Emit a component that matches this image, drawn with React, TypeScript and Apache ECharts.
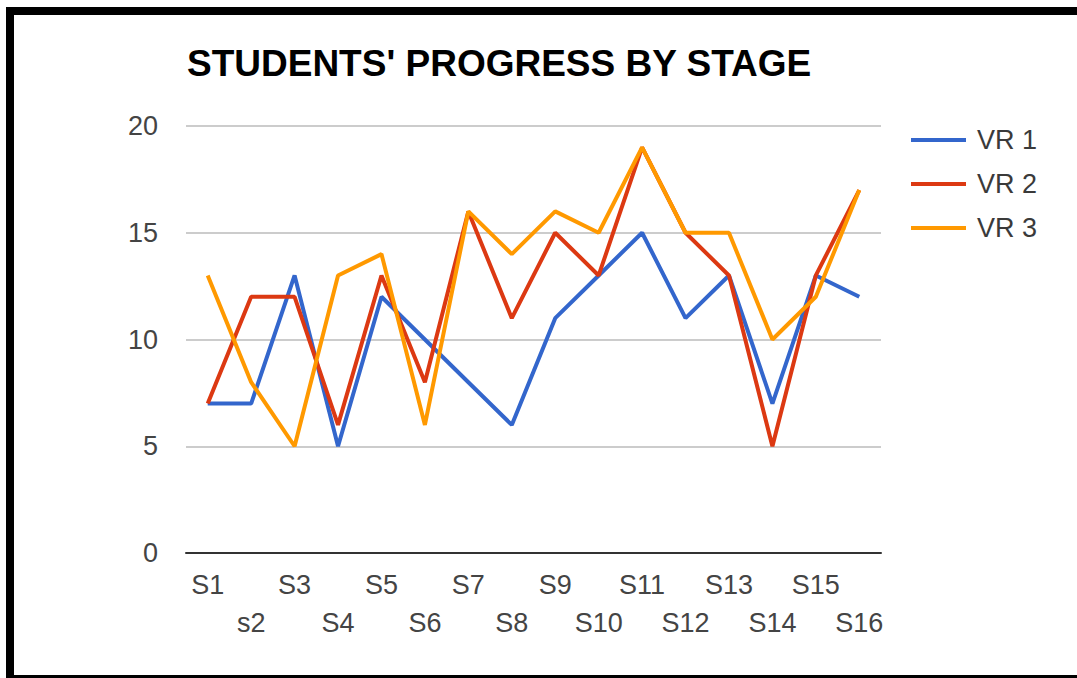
import React, { useEffect, useRef } from "react";
import * as echarts from "echarts";

const categories = ["S1", "s2", "S3", "S4", "S5", "S6", "S7", "S8", "S9", "S10", "S11", "S12", "S13", "S14", "S15", "S16"];
const vr1 = [7, 7, 13, 5, 12, 10, 8, 6, 11, 13, 15, 11, 13, 7, 13, 12];
const vr2 = [7, 12, 12, 6, 13, 8, 16, 11, 15, 13, 19, 15, 13, 5, 13, 17];
const vr3 = [13, 8, 5, 13, 14, 6, 16, 14, 16, 15, 19, 15, 15, 10, 12, 17];
const seriesNames = ["VR 1", "VR 2", "VR 3"];
const colors = ["#3366cc", "#dc3912", "#ff9900"];
const titleText = "STUDENTS' PROGRESS BY STAGE";

const FONT = "'Liberation Sans', Arial, sans-serif";

export default function App() {
  const ref = useRef<HTMLDivElement>(null);
  useEffect(() => {
    if (!ref.current) return;
    const chart = echarts.init(ref.current, undefined, { renderer: "svg" });
    const data = [vr1, vr2, vr3];
    chart.setOption({
      animation: false,
      backgroundColor: "#ffffff",
      color: colors,
      title: {
        text: titleText,
        left: 182,
        top: 40,
        textStyle: { fontFamily: FONT, fontSize: 37, fontWeight: "bold", color: "#000000" },
      },
      legend: {
        orient: "vertical",
        left: 906,
        top: 120,
        icon: "rect",
        itemWidth: 55,
        itemHeight: 4,
        itemGap: 14,
        data: seriesNames,
        textStyle: { fontFamily: FONT, fontSize: 27, color: "#3a3a3a", lineHeight: 30, padding: [0, 0, 0, 6] },
      },
      grid: { left: 186, right: 196, top: 126, bottom: 125, containLabel: false },
      xAxis: {
        type: "category",
        data: categories,
        boundaryGap: true,
        axisLine: { show: true, lineStyle: { color: "#333333", width: 2 } },
        axisTick: { show: false },
        axisLabel: {
          interval: 0,
          margin: 13,
          fontFamily: FONT,
          fontSize: 27,
          lineHeight: 38,
          color: "#444444",
          formatter: (v: string, i: number) => (i % 2 === 1 ? "\n" + v : v),
        },
        splitLine: { show: false },
      },
      yAxis: {
        type: "value",
        min: 0,
        max: 20,
        interval: 5,
        axisLine: { show: false },
        axisTick: { show: false },
        axisLabel: { margin: 28, fontFamily: FONT, fontSize: 27, color: "#444444" },
        splitLine: { lineStyle: { color: "#cccccc", width: 2 } },
      },
      series: seriesNames.map((name, k) => ({
        name,
        type: "line",
        data: data[k],
        showSymbol: false,
        symbol: "none",
        lineStyle: { width: 4, color: colors[k] },
        itemStyle: { color: colors[k] },
      })),
    });
    return () => chart.dispose();
  }, []);

  return (
    <div style={{ position: "fixed", left: 0, top: 0, width: 1077, height: 678, background: "#fff", overflow: "hidden" }}>
      <div ref={ref} style={{ position: "absolute", left: 0, top: 0, width: 1077, height: 678 }} />
      <div
        style={{
          position: "absolute",
          left: 6,
          top: 7,
          width: 1077,
          height: 678 - 7 - 11,
          borderLeft: "8px solid #000",
          borderTop: "8px solid #000",
          borderBottom: "3px solid #000",
          boxSizing: "content-box",
          pointerEvents: "none",
        }}
      />
    </div>
  );
}
